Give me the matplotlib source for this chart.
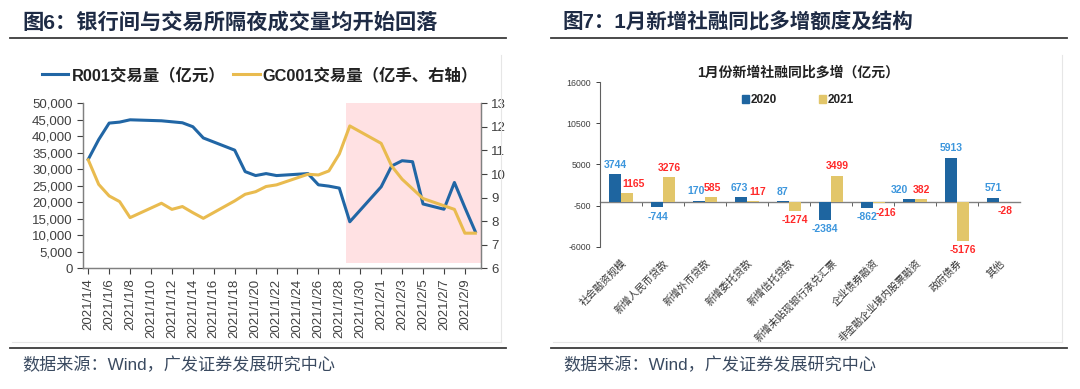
import numpy as np
import pandas as pd
import matplotlib
matplotlib.use('Agg')
import matplotlib.pyplot as plt
from matplotlib.patches import Patch
from matplotlib.lines import Line2D

plt.rcParams['font.family'] = ['Liberation Sans', 'Noto Sans CJK SC', 'DejaVu Sans']
plt.rcParams['axes.unicode_minus'] = False

# %% left panel data: R001 (interbank) and GC001 (exchange) overnight volume
r001_dates = ['2021-01-04', '2021-01-05', '2021-01-06', '2021-01-07', '2021-01-08',
              '2021-01-11', '2021-01-12', '2021-01-13', '2021-01-14', '2021-01-15',
              '2021-01-18', '2021-01-19', '2021-01-20', '2021-01-21', '2021-01-22',
              '2021-01-25', '2021-01-26', '2021-01-27', '2021-01-28', '2021-01-29',
              '2021-02-01', '2021-02-02', '2021-02-03', '2021-02-04', '2021-02-05',
              '2021-02-07', '2021-02-08', '2021-02-09', '2021-02-10']
r001_vol = [33000, 39000, 44000, 44300, 45000,
            44700, 44400, 44100, 42900, 39500,
            35800, 29300, 28100, 28700, 28100,
            28700, 25300, 24900, 24300, 14100,
            24700, 31000, 32600, 32300, 19500,
            17900, 26000, 18400, 11100]

gc001_dates = ['2021-01-04', '2021-01-05', '2021-01-06', '2021-01-07', '2021-01-08',
               '2021-01-11', '2021-01-12', '2021-01-13', '2021-01-14', '2021-01-15',
               '2021-01-18', '2021-01-19', '2021-01-20', '2021-01-21', '2021-01-22',
               '2021-01-25', '2021-01-26', '2021-01-27', '2021-01-28', '2021-01-29',
               '2021-02-01', '2021-02-02', '2021-02-03', '2021-02-04', '2021-02-05',
               '2021-02-08', '2021-02-09', '2021-02-10']
gc001_vol = [10.6, 9.56, 9.07, 8.83, 8.15,
             8.76, 8.50, 8.62, 8.36, 8.12,
             8.86, 9.14, 9.25, 9.47, 9.54,
             9.99, 9.96, 10.13, 10.85, 12.04,
             11.30, 10.34, 9.78, 9.37, 8.96,
             8.50, 7.49, 7.49]

# %% right panel data
cats = ['社会融资规模', '新增人民币贷款', '新增外币贷款', '新增委托贷款', '新增信托贷款',
        '新增未贴现银行承兑汇票', '企业债券融资', '非金融企业境内股票融资', '政府债券', '其他']
y2020 = [3744, -744, 170, 673, 87, -2384, -862, 320, 5913, 571]
y2021 = [1165, 3276, 585, 117, -1274, 3499, -216, 382, -5176, -28]

navy = '#1e2b45'
grey = '#404040'

fig = plt.figure(figsize=(10.8, 3.89), dpi=100)

# %% headers, rules, sources
fig.text(22 / 1080, 1 - 22 / 389, '图6：银行间与交易所隔夜成交量均开始回落', fontsize=15.3,
         fontweight='bold', color=navy, va='center', ha='left')
fig.text(562 / 1080, 1 - 22 / 389, '图7：1月新增社融同比多增额度及结构', fontsize=14.8,
         fontweight='bold', color=navy, va='center', ha='left')
for x0, x1 in [(10, 506), (551, 1067)]:
    for yy in (38, 348):
        fig.add_artist(Line2D([x0 / 1080, x1 / 1080], [1 - yy / 389] * 2,
                              color='#3c3c3c', lw=1.3))
    fig.add_artist(Line2D([x1 / 1080 - 5 / 1080] * 2, [1 - 55 / 389, 1 - 342 / 389],
                          color='#e6e6e6', lw=0.8))
    fig.add_artist(Line2D([x0 / 1080 + 2 / 1080, x1 / 1080 - 5 / 1080], [1 - 342 / 389] * 2,
                          color='#e6e6e6', lw=0.8))
    fig.text((x0 + 12) / 1080, 1 - 365 / 389, '数据来源：Wind，广发证券发展研究中心',
             fontsize=12.3, color='#3a4a60', va='center', ha='left')

# %% left chart
ax = fig.add_axes([83 / 1080, 1 - 268.3 / 389, 398 / 1080, 165 / 389])
ax2 = ax.twinx()
d1 = pd.to_datetime(r001_dates)
d2 = pd.to_datetime(gc001_dates)
blue = '#2166a5'
yellow = '#e9bb4f'

ax.axvspan(pd.Timestamp('2021-01-28 15:00'), pd.Timestamp('2021-02-10 12:00'),
           ymin=0.032, ymax=1, color='#ffe1e3', lw=0, zorder=0)
ax.plot(d1, r001_vol, color=blue, lw=2.2, zorder=3)
ax2.plot(d2, gc001_vol, color=yellow, lw=2.2)

ax.set_xlim(pd.Timestamp('2021-01-03 12:00'), pd.Timestamp('2021-02-10 13:00'))
ax.set_ylim(0, 50000)
ax.set_yticks(np.arange(0, 50001, 5000))
ax.set_yticklabels([f'{v:,}' for v in range(0, 50001, 5000)])
ax2.set_ylim(6, 13)
ax2.set_yticks(range(6, 14))

ticks = pd.date_range('2021-01-04', '2021-02-09', freq='2D')
ax.set_xticks(ticks)
ax.set_xticklabels([f'{t.year}/{t.month}/{t.day}' for t in ticks], rotation=90)

for a in (ax, ax2):
    a.tick_params(labelsize=9.5, colors=grey, length=4, width=0.8)
    a.spines['top'].set_visible(False)
    for s in ('left', 'right', 'bottom'):
        a.spines[s].set_color('#808080')
        a.spines[s].set_linewidth(0.9)

handles = [Line2D([], [], color=blue, lw=2.2), Line2D([], [], color=yellow, lw=2.2)]
fig.legend(handles, ['R001交易量（亿元）', 'GC001交易量（亿手、右轴）'], ncol=2,
           loc='center', bbox_to_anchor=(260 / 1080, 1 - 75 / 389), frameon=False,
           prop={'size': 11.8, 'weight': 'bold'}, handlelength=1.6, handletextpad=0.2,
           columnspacing=0.5, labelcolor='#222222')

# %% right chart
bx = fig.add_axes([600 / 1080, 1 - 246.7 / 389, 420 / 1080, 164.7 / 389])
x = np.arange(len(cats))
w = 0.29
b1 = bx.bar(x - w / 2, y2020, w, color='#1e65a0', label='2020', zorder=2)
b2 = bx.bar(x + w / 2, y2021, w, color='#e2c66a', label='2021', zorder=2)

# small sideways nudges so neighbouring labels do not collide
nudge20 = [0, 1, -2, -1, 0, 0, 0, -7, 0, 0]
nudge21 = [5, 0, 1, 3, 0, 0, 5, 0, 0, 0]
for bars, vals, nd, col in [(b1, y2020, nudge20, '#3c96dd'), (b2, y2021, nudge21, '#ff2a2a')]:
    for rect, v, dx in zip(bars, vals, nd):
        cx = rect.get_x() + rect.get_width() / 2
        bx.annotate(str(v), (cx, v), xytext=(dx, 3 if v >= 0 else -3),
                    textcoords='offset points', ha='center',
                    va='bottom' if v >= 0 else 'top', fontsize=7.5, fontweight='bold',
                    color=col)

bx.set_xlim(-0.5, len(cats) - 0.5)
bx.set_ylim(-6000, 16000)
bx.set_yticks([16000, 10500, 5000, -500, -6000])
bx.tick_params(axis='y', labelsize=6.3, colors=grey, length=3, width=0.7)
bx.set_xticks(x)
bx.set_xticklabels(cats, rotation=45, ha='right', va='top', rotation_mode='anchor',
                   fontsize=7.3, color='#333333')
bx.tick_params(axis='x', length=0, pad=8)
for s in ('top', 'right', 'bottom'):
    bx.spines[s].set_visible(False)
bx.spines['left'].set_color('#606060')
bx.spines['left'].set_linewidth(0.8)

# zero line with category separators
ymin, ymax = bx.get_ylim()
zero_ax = bx.secondary_xaxis((0 - ymin) / (ymax - ymin))
zero_ax.set_xticks(np.arange(1, len(cats)) - 0.5)
zero_ax.tick_params(length=3, width=0.7, color='#606060', labelbottom=False, labeltop=False)
zero_ax.spines['bottom'].set_color('#808080')
zero_ax.spines['top'].set_color('#808080')
zero_ax.spines['bottom'].set_linewidth(1.0)

fig.text(798 / 1080, 1 - 73 / 389, '1月份新增社融同比多增（亿元）', fontsize=10,
         fontweight='bold', color='#222222', ha='center', va='center')
fig.legend([Patch(color='#1e65a0'), Patch(color='#e2c66a')], ['2020', '2021'], ncol=2,
           loc='center', bbox_to_anchor=(798 / 1080, 1 - 100 / 389), frameon=False,
           prop={'size': 8.5, 'weight': 'bold'}, handlelength=0.6, handleheight=0.6,
           handletextpad=0.2, columnspacing=3.5, labelcolor='#222222')

fig.savefig('out.png', dpi=100)
